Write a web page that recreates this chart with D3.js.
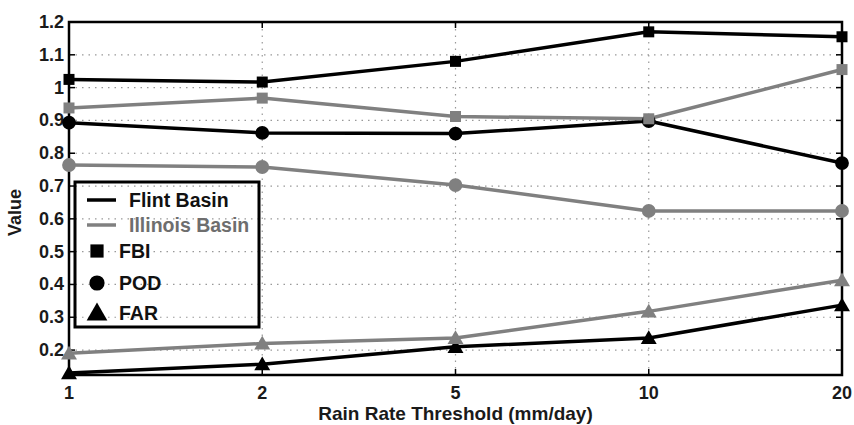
<!DOCTYPE html>
<html>
<head>
<meta charset="utf-8">
<script src="https://cdn.jsdelivr.net/npm/d3@7"></script>
<style>
  body { margin: 0; background: #fff; }
  svg { display: block; font-family: Arial, 'Liberation Sans', sans-serif; font-weight: bold; }
</style>
</head>
<body>
<div id="chart"></div>
<script>
// thresholds on the x axis (categorical, evenly spaced)
const thresholds = ['1', '2', '5', '10', '20']

const flintFBI = [1.025, 1.017, 1.08, 1.17, 1.155]
const flintPOD = [0.893, 0.862, 0.86, 0.898, 0.77]
const flintFAR = [0.13, 0.157, 0.21, 0.237, 0.337]

const illinoisFBI = [0.938, 0.968, 0.912, 0.905, 1.055]
const illinoisPOD = [0.764, 0.758, 0.703, 0.624, 0.624]
const illinoisFAR = [0.19, 0.22, 0.237, 0.318, 0.413]

const yTicks = [0.2, 0.3, 0.4, 0.5, 0.6, 0.7, 0.8, 0.9, 1, 1.1, 1.2]

const black = '#000'
const gray = '#808080'

const width = 854, height = 425
const margin = { top: 22, right: 12, bottom: 50, left: 69 }

const svg = d3.select('#chart').append('svg')
    .attr('width', width)
    .attr('height', height)

const x = d3.scalePoint()
    .domain(thresholds)
    .range([margin.left, width - margin.right])

const y = d3.scaleLinear()
    .domain([0.124, 1.2])
    .range([height - margin.bottom, margin.top])

const x0 = margin.left, x1 = width - margin.right
const y0 = height - margin.bottom, y1 = margin.top

// dotted grid
svg.append('g')
    .selectAll('line.hgrid')
    .data(yTicks)
    .enter()
    .append('line')
    .attr('class', 'hgrid')
    .attr('x1', x0).attr('x2', x1)
    .attr('y1', d => y(d)).attr('y2', d => y(d))
    .attr('stroke', '#999')
    .attr('stroke-width', 1.2)
    .attr('stroke-dasharray', '1.5,5')

svg.append('g')
    .selectAll('line.vgrid')
    .data(thresholds)
    .enter()
    .append('line')
    .attr('class', 'vgrid')
    .attr('x1', d => x(d)).attr('x2', d => x(d))
    .attr('y1', y0).attr('y2', y1)
    .attr('stroke', '#999')
    .attr('stroke-width', 1.2)
    .attr('stroke-dasharray', '1.5,5')

// series
const series = [
    { vals: flintFBI, color: black, shape: 'square' },
    { vals: flintPOD, color: black, shape: 'circle' },
    { vals: flintFAR, color: black, shape: 'triangle' },
    { vals: illinoisFBI, color: gray, shape: 'square' },
    { vals: illinoisPOD, color: gray, shape: 'circle' },
    { vals: illinoisFAR, color: gray, shape: 'triangle' }
]

const line = d3.line()
    .x((d, i) => x(thresholds[i]))
    .y(d => y(d))

svg.append('g')
    .selectAll('path.series')
    .data(series)
    .enter()
    .append('path')
    .attr('class', 'series')
    .attr('d', d => line(d.vals))
    .attr('fill', 'none')
    .attr('stroke', d => d.color)
    .attr('stroke-width', 3.5)
    .attr('stroke-linejoin', 'round')

// axes box
const axisg = svg.append('g')
axisg.append('rect')
    .attr('x', x0).attr('y', y1)
    .attr('width', x1 - x0).attr('height', y0 - y1)
    .attr('fill', 'none')
    .attr('stroke', '#000')
    .attr('stroke-width', 2.5)

// inward ticks
axisg.selectAll('line.ytickl')
    .data(yTicks)
    .enter()
    .append('line')
    .attr('x1', x0).attr('x2', x0 + 6)
    .attr('y1', d => y(d)).attr('y2', d => y(d))
    .attr('stroke', '#000').attr('stroke-width', 1.5)
axisg.selectAll('line.ytickr')
    .data(yTicks)
    .enter()
    .append('line')
    .attr('x1', x1 - 6).attr('x2', x1)
    .attr('y1', d => y(d)).attr('y2', d => y(d))
    .attr('stroke', '#000').attr('stroke-width', 1.5)
axisg.selectAll('line.xtickb')
    .data(thresholds)
    .enter()
    .append('line')
    .attr('x1', d => x(d)).attr('x2', d => x(d))
    .attr('y1', y0).attr('y2', y0 - 6)
    .attr('stroke', '#000').attr('stroke-width', 1.5)
axisg.selectAll('line.xtickt')
    .data(thresholds)
    .enter()
    .append('line')
    .attr('x1', d => x(d)).attr('x2', d => x(d))
    .attr('y1', y1).attr('y2', y1 + 6)
    .attr('stroke', '#000').attr('stroke-width', 1.5)

// tick labels
axisg.selectAll('text.ylab')
    .data(yTicks)
    .enter()
    .append('text')
    .attr('x', x0 - 5)
    .attr('y', d => y(d) + 6)
    .attr('text-anchor', 'end')
    .attr('font-size', 18)
    .attr('fill', '#1a1a1a')
    .text(d => d3.format('~g')(d))

axisg.selectAll('text.xlab')
    .data(thresholds)
    .enter()
    .append('text')
    .attr('x', d => x(d))
    .attr('y', y0 + 24)
    .attr('text-anchor', 'middle')
    .attr('font-size', 18)
    .attr('fill', '#1a1a1a')
    .text(d => d)

svg.append('text')
    .attr('x', (x0 + x1) / 2)
    .attr('y', height - 5)
    .attr('text-anchor', 'middle')
    .attr('font-size', 19)
    .attr('fill', '#1a1a1a')
    .text('Rain Rate Threshold (mm/day)')

svg.append('text')
    .attr('transform', 'translate(21,' + ((y0 + y1) / 2 + 14) + ') rotate(-90)')
    .attr('text-anchor', 'middle')
    .attr('font-size', 18)
    .attr('fill', '#1a1a1a')
    .text('Value')

// markers
const symbolFor = {
    square: d3.symbol().type(d3.symbolSquare).size(121),
    circle: d3.symbol().type(d3.symbolCircle).size(150),
    triangle: d3.symbol().type(d3.symbolTriangle).size(110)
}

series.forEach(s => {
    svg.append('g')
        .selectAll('path.marker')
        .data(s.vals)
        .enter()
        .append('path')
        .attr('class', 'marker')
        .attr('d', symbolFor[s.shape]())
        .attr('transform', (d, i) => 'translate(' + x(thresholds[i]) + ',' + (y(d) + (s.shape === 'triangle' ? 1.5 : 0)) + ')')
        .attr('fill', s.color)
})

// legend
const legendItems = [
    { label: 'Flint Basin', kind: 'line', color: black, textColor: '#111' },
    { label: 'Illinois Basin', kind: 'line', color: gray, textColor: '#6e6e6e' },
    { label: 'FBI', kind: 'square', color: black, textColor: '#111' },
    { label: 'POD', kind: 'circle', color: black, textColor: '#111' },
    { label: 'FAR', kind: 'triangle', color: black, textColor: '#111' }
]
const legendY = [200, 225, 251, 283, 313]

const legend = svg.append('g')
legend.append('rect')
    .attr('x', 75).attr('y', 182)
    .attr('width', 184).attr('height', 145)
    .attr('fill', 'none')
    .attr('stroke', '#000')
    .attr('stroke-width', 3)

const legendRows = legend.selectAll('g.legrow')
    .data(legendItems)
    .enter()
    .append('g')
    .attr('class', 'legrow')
    .attr('transform', (d, i) => 'translate(0,' + legendY[i] + ')')

legendRows.filter(d => d.kind === 'line')
    .append('line')
    .attr('x1', 87).attr('x2', 116)
    .attr('y1', 0).attr('y2', 0)
    .attr('stroke', d => d.color)
    .attr('stroke-width', 3.5)

legendRows.filter(d => d.kind !== 'line')
    .append('path')
    .attr('d', d => symbolFor[d.kind]())
    .attr('transform', d => 'translate(97,' + (d.kind === 'triangle' ? 1.5 : 0) + ')' + (d.kind === 'triangle' ? ' scale(1.3)' : d.kind === 'square' ? ' scale(1.2)' : ' scale(1.1)'))
    .attr('fill', d => d.color)

legendRows.append('text')
    .attr('x', d => d.kind === 'line' ? 129 : 119)
    .attr('y', 7)
    .attr('font-size', 19.5)
    .attr('fill', d => d.textColor)
    .text(d => d.label)
</script>
</body>
</html>
